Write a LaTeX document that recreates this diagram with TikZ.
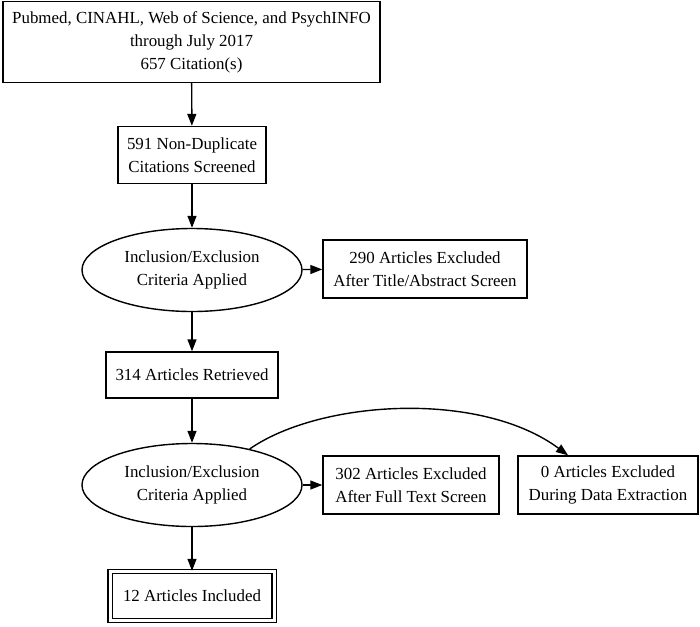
\documentclass[tikz,border=0pt]{standalone}
\usepackage{fontspec}
\setmainfont{Liberation Serif}
\usetikzlibrary{arrows.meta,shapes.geometric}

\begin{document}
\begin{tikzpicture}[x=1pt,y=-1pt,
  txt/.style={align=center,inner sep=0pt,font=\fontsize{16.9}{23}\selectfont},
  box/.style={txt,draw,line width=1.4pt},
  crit/.style={txt,ellipse,draw,line width=1.4pt,minimum width=220pt,minimum height=83pt},
  incl/.style={box,double,double distance=3pt,minimum width=164pt,minimum height=49pt},
  flow/.style={line width=1.4pt,-{Triangle[length=12pt,width=9pt]}}]

\useasboundingbox (0,0) rectangle (700,626);

\node[box,minimum width=377pt,minimum height=81pt] (search) at (191.5,42)
  {Pubmed, CINAHL, Web of Science, and PsychINFO\\through July 2017\\657 Citation(s)};
\node[box,minimum width=148pt,minimum height=57pt] (screened) at (192,155)
  {591 Non-Duplicate\\Citations Screened};
\node[crit] (critA) at (192,270) {Inclusion/Exclusion\\Criteria Applied};
\node[box,minimum width=204pt,minimum height=58pt] (exclA) at (425,269)
  {290 Articles Excluded\\After Title/Abstract Screen};
\node[box,minimum width=172pt,minimum height=46pt] (retrieved) at (192,375)
  {314 Articles Retrieved};
\node[crit] (critB) at (192,485) {Inclusion/Exclusion\\Criteria Applied};
\node[box,minimum width=176pt,minimum height=58pt] (exclB) at (411,485)
  {302 Articles Excluded\\After Full Text Screen};
\node[box,minimum width=180pt,minimum height=58pt] (exclC) at (608,485)
  {0 Articles Excluded\\During Data Extraction};
\node[incl] (included) at (192,596) {12 Articles Included};

\draw[flow] (search) -- (screened);
\draw[flow] (screened) -- (critA);
\draw[flow] (critA) -- (exclA);
\draw[flow] (critA) -- (retrieved);
\draw[flow] (retrieved) -- (critB);
\draw[flow] (critB) -- (exclB);
\draw[flow] (critB.32) .. controls (320,400) and (480,390) .. (exclC);
\draw[flow] (critB) -- (included);
\end{tikzpicture}
\end{document}
